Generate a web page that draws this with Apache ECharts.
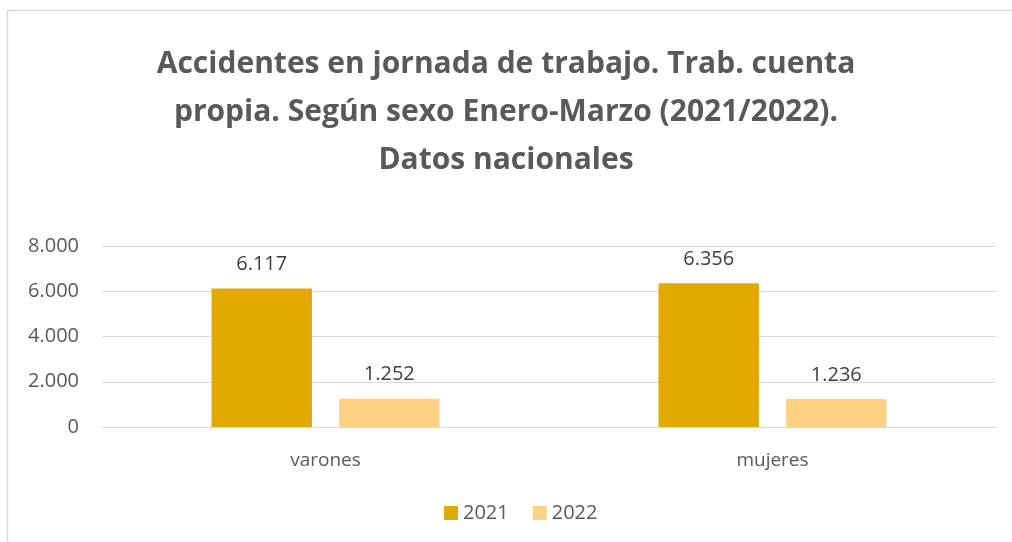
<!DOCTYPE html>
<html><head><meta charset="utf-8">
<script src="https://cdn.jsdelivr.net/npm/echarts@6/dist/echarts.min.js"></script>
<style>html,body{margin:0;padding:0;background:#fff}#c{width:1012px;height:542px}</style>
</head><body><div id="c"></div>
<script>
const categories = ["varones", "mujeres"];
const seriesNames = ["2021", "2022"];
const values2021 = [6117, 6356];
const values2022 = [1252, 1236];
const yTicks = [0, 2000, 4000, 6000, 8000];

function fmt(v){ return String(v).replace(/\B(?=(\d{3})+(?!\d))/g, "."); }
const FONT = "'Open Sans', sans-serif";
const chart = echarts.init(document.getElementById('c'));
chart.setOption({
  backgroundColor: '#fff',
  animation: false,
  graphic: [
    {type:'line', shape:{x1:7, y1:10.5, x2:1012, y2:10.5}, style:{stroke:'#d9d9d9', lineWidth:1.5}},
    {type:'line', shape:{x1:7.5, y1:10, x2:7.5, y2:542}, style:{stroke:'#d9d9d9', lineWidth:1.5}}
  ],
  title: {
    text: "Accidentes en jornada de trabajo. Trab. cuenta\npropia. Según sexo Enero-Marzo (2021/2022).\nDatos nacionales",
    left: 'center', top: 35,
    textStyle: {fontFamily: FONT, fontWeight: 'bold', fontSize: 30, color: '#595959', lineHeight: 48}
  },
  legend: {
    data: seriesNames, bottom: 14, left: 439, itemWidth: 14, itemHeight: 14, itemGap: 24,
    icon: 'rect',
    textStyle: {fontFamily: FONT, fontSize: 20, color: '#595959'}
  },
  grid: {left: 102, right: 16, top: 246, bottom: 115},
  xAxis: {
    type: 'category', data: categories,
    axisLine: {lineStyle: {color: '#d9d9d9'}}, axisTick: {show: false},
    axisLabel: {fontFamily: FONT, fontSize: 19, color: '#595959', margin: 24}
  },
  yAxis: {
    type: 'value', min: 0, max: 8000, interval: 2000,
    axisLine: {show: false}, axisTick: {show: false},
    splitLine: {lineStyle: {color: '#d9d9d9', width: 1}},
    axisLabel: {fontFamily: FONT, fontSize: 20, color: '#595959', margin: 23, formatter: v => fmt(v)}
  },
  series: [
    {name: seriesNames[0], type: 'bar', data: values2021, barGap: '27%', barCategoryGap: '49%',
     itemStyle: {color: '#E2AA00'},
     label: {show: true, position: 'top', distance: 14, fontFamily: FONT, fontSize: 20, color: '#404040', formatter: p => fmt(p.value)}},
    {name: seriesNames[1], type: 'bar', data: values2022,
     itemStyle: {color: '#FFD185'},
     label: {show: true, position: 'top', distance: 14, fontFamily: FONT, fontSize: 20, color: '#404040', formatter: p => fmt(p.value)}}
  ]
});
</script></body></html>
